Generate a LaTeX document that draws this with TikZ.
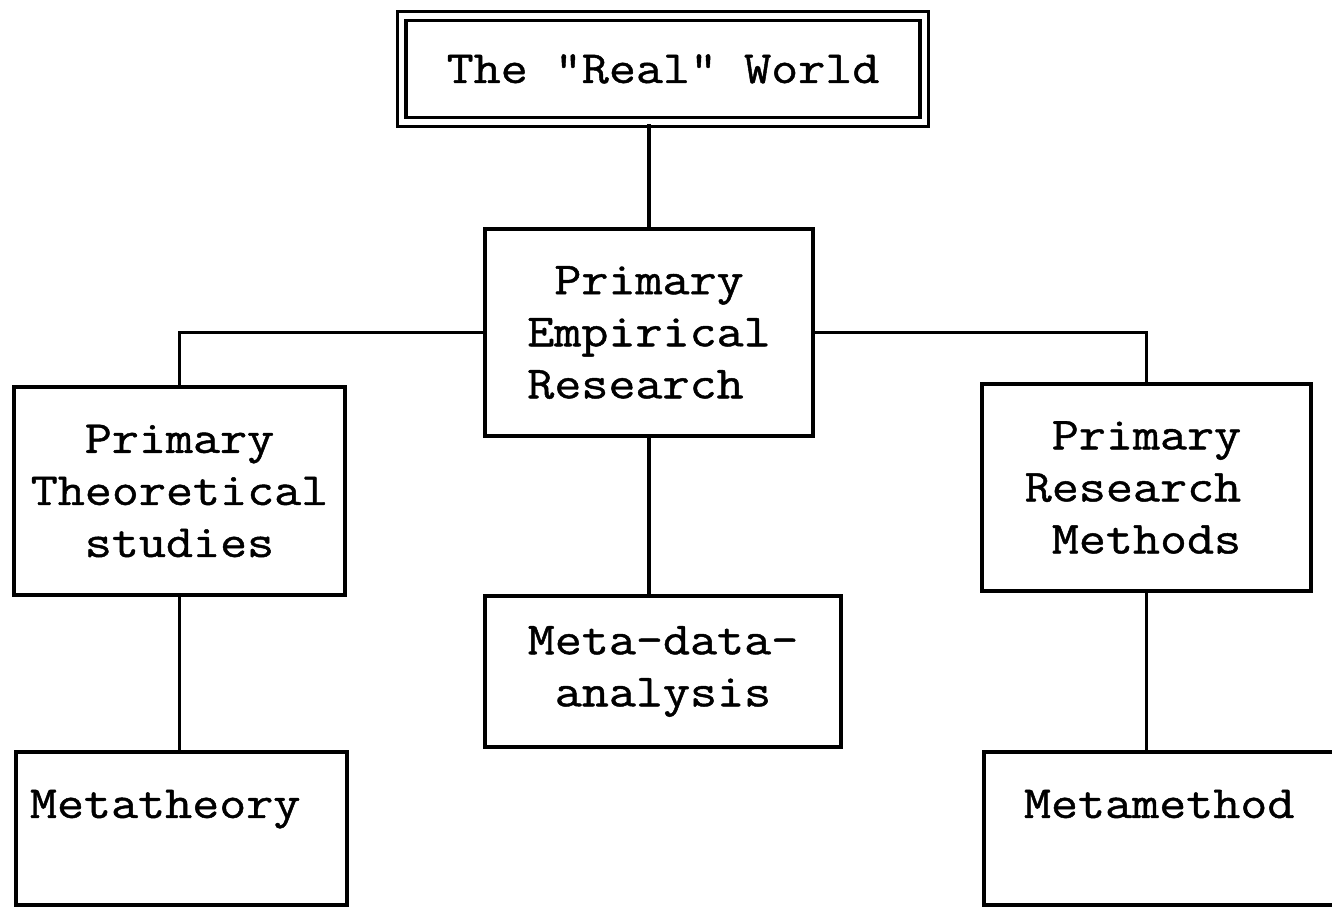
\documentclass[tikz,border=0pt]{standalone}
\usepackage{fontspec}
\setmonofont[FakeStretch=1.14, FakeBold=1]{Latin Modern Mono}
\usepackage{xcolor}

\begin{document}
\begin{tikzpicture}[x=0.01cm, y=-0.01cm, line width=1.1pt,
                    box/.style={draw, rectangle, inner sep=0pt, align=center,
                                font=\ttfamily\fontsize{13.1}{14.8}\selectfont},
                    leafbox/.style={box, anchor=north west, align=left}]
                            \useasboundingbox (0,0) rectangle (1332,907);

                            \node (real) [box, line width=1pt, double=white, double distance=1.5pt,
                                          minimum width=5.22cm, minimum height=1.06cm] at (663,69) {The "Real" World};
                            \node (emp) [box, minimum width=3.28cm, minimum height=2.07cm] at (649,332.5) {Primary\\Empirical\\Research\phantom{x}};
                            \node (theo) [box, minimum width=3.31cm, minimum height=2.08cm] at (179.5,491) {Primary\\Theoretical\\studies};
                            \node (meth) [box, minimum width=3.29cm, minimum height=2.07cm] at (1146.5,487.5) {Primary\\Research\phantom{x}\\Methods};
                            \node (data) [box, minimum width=3.56cm, minimum height=1.51cm] at (663,671.5) {Meta-data-\\analysis};
                            \node (mtheory) [leafbox, inner xsep=0.14cm, text width=3.03cm,
                                             text height=0.66cm, text depth=0.87cm] at (14,750) {Metatheory};
                            \node (mmeth) [leafbox, inner xsep=0.40cm, text width=3.8cm,
                                           text height=0.66cm, text depth=0.87cm] at (982,750) {Metamethod};

                            \draw (emp.north) -- (emp.north |- real.south);
                            \draw (emp.west) -| (theo.north);
                            \draw (emp.east) -| (meth.north);
                            \draw (emp.south) -- (emp.south |- data.north);
                            \draw (theo.south) -- (mtheory.north -| theo.south);
                            \draw (meth.south) -- (meth.south |- mmeth.north);
                        \end{tikzpicture}
\end{document}
